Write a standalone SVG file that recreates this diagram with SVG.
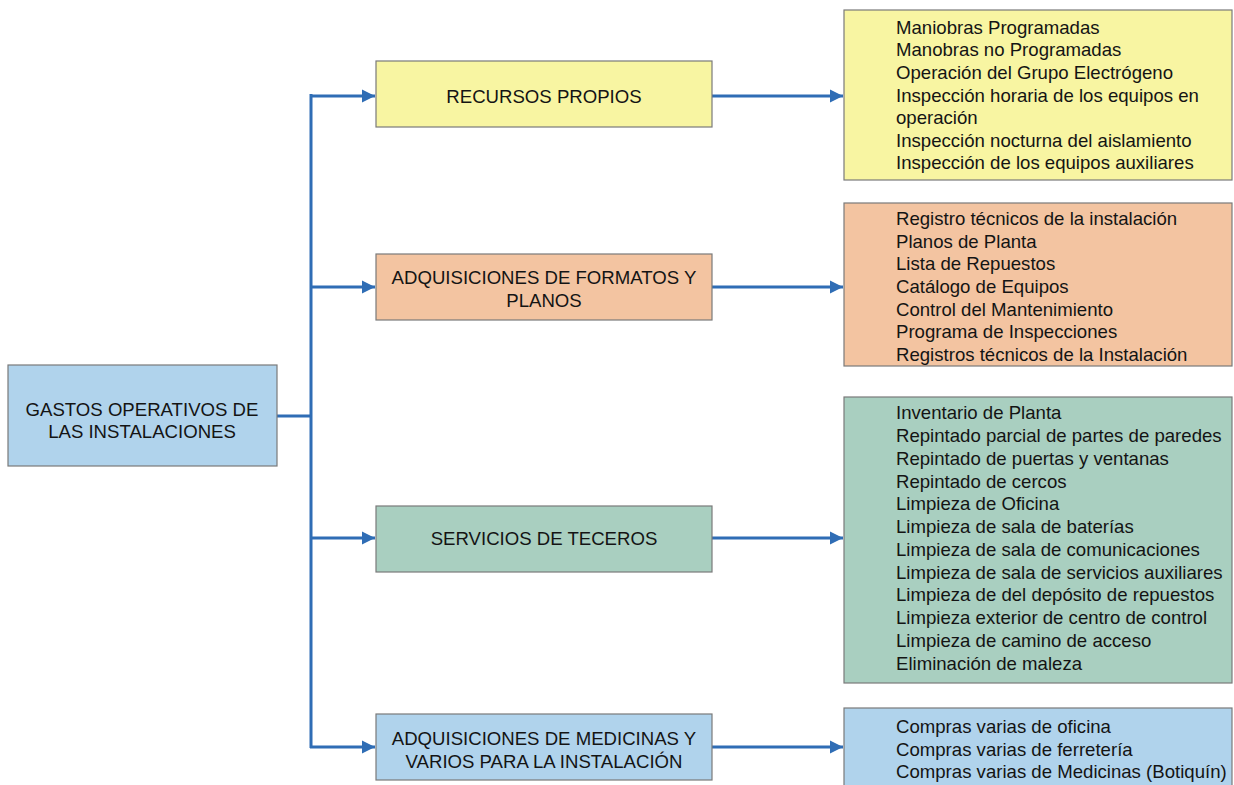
<svg xmlns="http://www.w3.org/2000/svg" width="1234" height="785" viewBox="0 0 1234 785">
<defs>
<style>
.box{stroke:#7a7a7a;stroke-width:1.2}
.yel{fill:#f8f5a2}
.org{fill:#f3c4a1}
.grn{fill:#a9cfc0}
.blu{fill:#b0d3ec}
.t{font-family:"Liberation Sans",Arial,sans-serif;font-size:18.6px;fill:#141414}
.c{text-anchor:middle}
.l{font-family:"Liberation Sans",Arial,sans-serif;font-size:18.6px;fill:#141414}
.con{stroke:#2f6db5;stroke-width:3;fill:none}
</style>
<marker id="ah" viewBox="0 0 10 10" refX="10" refY="5" markerWidth="4.5" markerHeight="4.5" markerUnits="strokeWidth" orient="auto">
<path d="M0,0 L10,5 L0,10 z" fill="#2f6db5"/>
</marker>
</defs>
<rect width="1234" height="785" fill="#ffffff"/>
<g id="connectors">
<line class="con" x1="277" y1="416" x2="311" y2="416"/>
<line class="con" x1="311" y1="94" x2="311" y2="748"/>
<path class="con" d="M310,96 H375" marker-end="url(#ah)"/>
<path class="con" d="M311,287 H375" marker-end="url(#ah)"/>
<path class="con" d="M311,538 H375" marker-end="url(#ah)"/>
<path class="con" d="M310,747 H375" marker-end="url(#ah)"/>
<path class="con" d="M712,96 H843" marker-end="url(#ah)"/>
<path class="con" d="M712,287 H843" marker-end="url(#ah)"/>
<path class="con" d="M712,538 H843" marker-end="url(#ah)"/>
<path class="con" d="M712,747 H843" marker-end="url(#ah)"/>
</g>
<g id="root">
<rect class="box blu" x="8" y="365" width="269" height="101"/>
<text class="t c" x="142" y="416">GASTOS OPERATIVOS DE</text>
<text class="t c" x="142" y="438">LAS INSTALACIONES</text>
</g>
<g id="recursos">
<rect class="box yel" x="376" y="61" width="336" height="66"/>
<text class="t c" x="544" y="103">RECURSOS PROPIOS</text>
</g>
<g id="formatos">
<rect class="box org" x="376" y="254" width="336" height="66"/>
<text class="t c" x="544" y="284">ADQUISICIONES DE FORMATOS Y</text>
<text class="t c" x="544" y="307">PLANOS</text>
</g>
<g id="servicios">
<rect class="box grn" x="376" y="506" width="336" height="66"/>
<text class="t c" x="544" y="545">SERVICIOS DE TECEROS</text>
</g>
<g id="medicinas">
<rect class="box blu" x="376" y="714" width="336" height="66"/>
<text class="t c" x="544" y="745">ADQUISICIONES DE MEDICINAS Y</text>
<text class="t c" x="544" y="768">VARIOS PARA LA INSTALACIÓN</text>
</g>
<g id="recursos-lista">
<rect class="box yel" x="844" y="10" width="388" height="170"/>
<text class="l" x="896" y="34">Maniobras Programadas</text>
<text class="l" x="896" y="56">Manobras no Programadas</text>
<text class="l" x="896" y="79">Operación del Grupo Electrógeno</text>
<text class="l" x="896" y="102">Inspección horaria de los equipos en</text>
<text class="l" x="896" y="124">operación</text>
<text class="l" x="896" y="147">Inspección nocturna del aislamiento</text>
<text class="l" x="896" y="169">Inspección de los equipos auxiliares</text>
</g>
<g id="formatos-lista">
<rect class="box org" x="844" y="203" width="388" height="163"/>
<text class="l" x="896" y="225">Registro técnicos de la instalación</text>
<text class="l" x="896" y="248">Planos de Planta</text>
<text class="l" x="896" y="270">Lista de Repuestos</text>
<text class="l" x="896" y="293">Catálogo de Equipos</text>
<text class="l" x="896" y="316">Control del Mantenimiento</text>
<text class="l" x="896" y="338">Programa de Inspecciones</text>
<text class="l" x="896" y="361">Registros técnicos de la Instalación</text>
</g>
<g id="servicios-lista">
<rect class="box grn" x="844" y="397" width="388" height="286"/>
<text class="l" x="896" y="419">Inventario de Planta</text>
<text class="l" x="896" y="442">Repintado parcial de partes de paredes</text>
<text class="l" x="896" y="465">Repintado de puertas y ventanas</text>
<text class="l" x="896" y="488">Repintado de cercos</text>
<text class="l" x="896" y="510">Limpieza de Oficina</text>
<text class="l" x="896" y="533">Limpieza de sala de baterías</text>
<text class="l" x="896" y="556">Limpieza de sala de comunicaciones</text>
<text class="l" x="896" y="579">Limpieza de sala de servicios auxiliares</text>
<text class="l" x="896" y="601">Limpieza de del depósito de repuestos</text>
<text class="l" x="896" y="624">Limpieza exterior de centro de control</text>
<text class="l" x="896" y="647">Limpieza de camino de acceso</text>
<text class="l" x="896" y="670">Eliminación de maleza</text>
</g>
<g id="medicinas-lista">
<rect class="box blu" x="844" y="708" width="388" height="90"/>
<text class="l" x="896" y="733">Compras varias de oficina</text>
<text class="l" x="896" y="756">Compras varias de ferretería</text>
<text class="l" x="896" y="778">Compras varias de Medicinas (Botiquín)</text>
</g>
</svg>
